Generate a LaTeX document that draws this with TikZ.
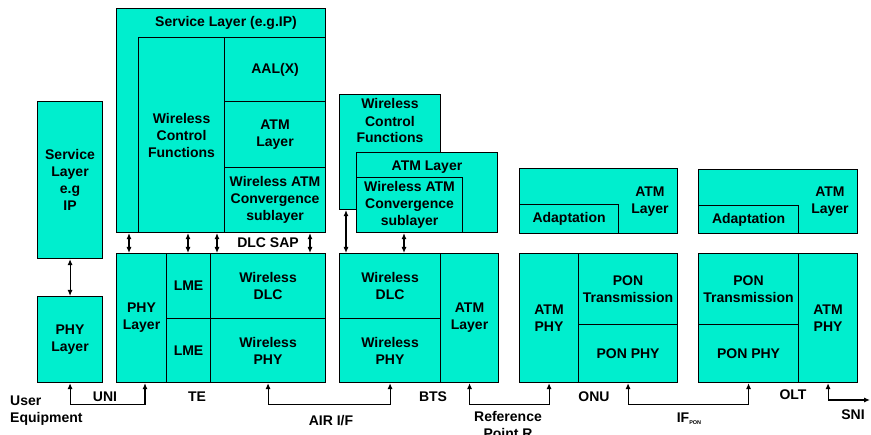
\documentclass[tikz,border=0pt]{standalone}
\usepackage{fontspec}
\setmainfont{Liberation Sans}
\usetikzlibrary{arrows.meta}

\definecolor{layer}{RGB}{0,238,206}
\newcommand\lbl{\fontsize{14}{17}\selectfont\bfseries}

\tikzset{
  blk/.style={draw=black, fill=layer, line width=1.1pt, inner sep=0pt,
              align=center, font=\lbl, anchor=north west},
  txt/.style={inner sep=0pt, align=center, font=\lbl},
  link/.style={line width=1.1pt,
               {Latex[length=6pt,width=5pt]}-{Latex[length=6pt,width=5pt]}},
}

% \blkat{name}{x1}{y1}{x2}{y2}{text}: a layer box spanning two corners
\newcommand\blkat[6]{%
  \pgfmathsetmacro\boxw{#4-#2}%
  \pgfmathsetmacro\boxh{#5-#3}%
  \node[blk, minimum width=\boxw pt, minimum height=\boxh pt] (#1) at (#2,#3) {#6};}

\begin{document}
\begin{tikzpicture}[x=1pt, y=-1pt]
\useasboundingbox (0,0) rectangle (871,435);

% ---------- user equipment ----------
\blkat{svcUE}{37}{101}{102}{258}{Service\\Layer\\e.g\\IP}
\blkat{phyUE}{37}{296}{102}{382}{PHY\\Layer}
\draw[link] (svcUE.south) -- (phyUE.north);
\node[txt, align=left, anchor=west] (ueLbl) at (10,411) {User\\Equipment};

% ---------- terminal equipment ----------
\blkat{teSvc}{116}{8}{325}{232}{}
\node[txt] (teTitle) at (226,23) {Service Layer (e.g.IP)};
\blkat{wcf}{138}{37}{224}{232}{Wireless\\Control\\Functions}
\blkat{aal}{224}{37}{325}{101}{AAL(X)}
\blkat{atmTE}{224}{101}{325}{167}{ATM\\Layer}
\blkat{wacTE}{224}{167}{325}{232}{Wireless ATM\\Convergence\\sublayer}

\blkat{tePhy}{116}{253}{166}{382}{PHY\\Layer}
\blkat{lmeA}{166}{253}{210}{318}{LME}
\blkat{lmeB}{166}{318}{210}{382}{LME}
\blkat{wdlcTE}{210}{253}{325}{318}{Wireless\\DLC}
\blkat{wphyTE}{210}{318}{325}{382}{Wireless\\PHY}

\foreach \xx in {129,188,217,310}
  \draw[link] (\xx,0 |- teSvc.south) -- (\xx,0 |- tePhy.north);
\node[txt] (sapLbl) at (268,243) {DLC SAP};
\node[txt] (teLbl) at (197,397) {TE};

% ---------- base station ----------
\blkat{wcfB}{339}{94}{440}{209}{}
\node[txt] (wcfBLbl) at (390,121) {Wireless\\Control\\Functions};
\blkat{atmB}{356}{152}{497}{232}{}
\node[txt] (atmBLbl) at (427,167) {ATM Layer};
\blkat{wacB}{356}{177}{462}{232}{Wireless ATM\\Convergence\\sublayer}

\blkat{wdlcB}{339}{253}{440}{318}{Wireless\\DLC}
\blkat{wphyB}{339}{318}{440}{382}{Wireless\\PHY}
\blkat{atmLB}{440}{253}{498}{382}{ATM\\Layer}

\draw[link] (346,0 |- wcfB.south) -- (346,0 |- wdlcB.north);
\draw[link] (404,0 |- wacB.south) -- (404,0 |- wdlcB.north);
\node[txt] (btsLbl) at (433,397) {BTS};

% ---------- optical network unit ----------
\blkat{onuTop}{519}{168}{677}{233}{}
\blkat{adaptO}{519}{204}{618}{233}{Adaptation}
\node[txt] (atmOLbl) at (650,202) {ATM\\Layer};
\blkat{atmPhyO}{519}{253}{578}{382}{ATM\\PHY}
\blkat{ponTxO}{578}{253}{677}{324}{PON\\Transmission}
\blkat{ponPhyO}{578}{324}{677}{382}{PON PHY}
\node[txt] (onuLbl) at (594,397) {ONU};

% ---------- optical line termination ----------
\blkat{oltTop}{698}{169}{857}{233}{}
\blkat{adaptL}{698}{205}{798}{233}{Adaptation}
\node[txt] (atmLLbl) at (830,202) {ATM\\Layer};
\blkat{ponTxL}{698}{253}{798}{324}{PON\\Transmission}
\blkat{ponPhyL}{698}{324}{798}{382}{PON PHY}
\blkat{atmPhyL}{798}{253}{857}{382}{ATM\\PHY}
\node[txt] (oltLbl) at (793,395) {OLT};

% ---------- interfaces ----------
\draw[link] (phyUE.south) -- ++(0,21) -| (145,0 |- tePhy.south);
\node[txt] (uniLbl) at (105,397) {UNI};

\draw[link] (wphyTE.south) -- ++(0,21) -| (wphyB.south);
\node[txt] (airLbl) at (331,421) {AIR I/F};

\draw[link] (atmLB.south) -- ++(0,21) -| (atmPhyO.south);
\node[txt] (refLbl) at (508,425) {Reference\\Point R};

\draw[link] (ponPhyO.south) -- ++(0,21) -| (ponPhyL.south);
\node[txt] (ifLbl) at (689,419) {IF\raisebox{-2pt}{\fontsize{5.5}{6}\selectfont PON}};

\coordinate (sniEnd) at (870,400);
\draw[link] (atmPhyL.south) |- (sniEnd);
\node[txt] (sniLbl) at (853,415) {SNI};
\end{tikzpicture}
\end{document}
